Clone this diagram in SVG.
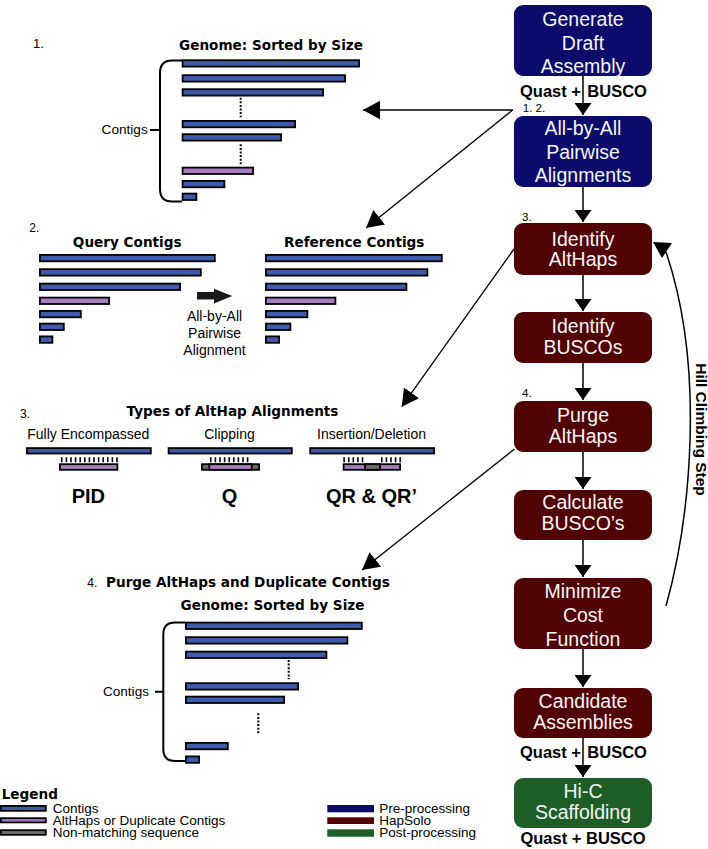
<svg xmlns="http://www.w3.org/2000/svg" width="708" height="849" viewBox="0 0 708 849">
<style>
.bar{fill:#3d5ba9;stroke:#000;stroke-width:1.8}
.pk{fill:#a97cc0;stroke:#000;stroke-width:1.8}
.gy{fill:#6d6d6d;stroke:#000;stroke-width:1.8}
.t{font-family:"Liberation Sans",Arial,sans-serif;fill:#000}
.h{font-family:"DejaVu Sans",sans-serif;font-weight:bold;font-size:13.6px;fill:#000}
.b{font-family:"Liberation Sans",Arial,sans-serif;font-weight:bold;fill:#000}
.bx{font-family:"Liberation Sans",Arial,sans-serif;font-size:19.5px;fill:#f4f4f4;text-anchor:middle}
.pre{fill:#0b0b6b}.hap{fill:#510202}.post{fill:#1d5e27}
.ln{fill:none;stroke:#000;stroke-width:1.3}
.fl{fill:none;stroke:#000;stroke-width:1.5}
.br{fill:none;stroke:#000;stroke-width:2}
.dot{stroke:#000;stroke-width:2;stroke-dasharray:2 1.6}
.hatch{stroke:#000;stroke-width:5;stroke-dasharray:1.6 3}
</style>
<defs>
<marker id="ah" markerUnits="userSpaceOnUse" markerWidth="18" markerHeight="19" refX="17" refY="9.3" orient="auto" viewBox="0 0 18 19"><path d="M0,0 L17,9.3 L0,18.6 z" fill="#000"/></marker>
<marker id="fh" markerUnits="userSpaceOnUse" markerWidth="13" markerHeight="17" refX="12" refY="8.5" orient="auto" viewBox="0 0 13 17"><path d="M0,0 L12,8.5 L0,17 z" fill="#000"/></marker>
</defs>

<!-- Section 1 -->
<g id="sec1">
<text class="t" x="33" y="48.3" font-size="13">1.</text>
<text class="h" x="271" y="50" text-anchor="middle">Genome: Sorted by Size</text>
<path class="br" d="M182,60.5 H172 Q160,60.5 160,73 V189 Q160,201.5 172,201.5 H182 M150,130 H160"/>
<text class="t" x="147.7" y="134" font-size="13.6" text-anchor="end">Contigs</text>
<rect class="bar" x="182.6" y="60.2" width="176.5" height="6.4"/>
<rect class="bar" x="182.6" y="75.2" width="162.5" height="6.4"/>
<rect class="bar" x="182.6" y="89.2" width="140.5" height="6.4"/>
<line class="dot" x1="240.7" y1="97.7" x2="240.7" y2="117.3"/>
<rect class="bar" x="182.6" y="120.9" width="112.5" height="6.4"/>
<rect class="bar" x="182.6" y="134.2" width="98.5" height="6.4"/>
<line class="dot" x1="240.7" y1="144.3" x2="240.7" y2="165"/>
<rect class="pk" x="182.6" y="167.6" width="70.5" height="6.4"/>
<rect class="bar" x="182.6" y="180.9" width="41.8" height="6.4"/>
<rect class="bar" x="182.6" y="193.6" width="13.8" height="6.4"/>
</g>

<!-- Section 2 -->
<g id="sec2">
<text class="t" x="29.3" y="232.3" font-size="12">2.</text>
<text class="h" x="127.2" y="247.3" text-anchor="middle">Query Contigs</text>
<text class="h" x="354.2" y="247.3" text-anchor="middle">Reference Contigs</text>
<rect class="bar" x="39.9" y="254.9" width="174.9" height="6.4"/>
<rect class="bar" x="39.9" y="269.2" width="160.9" height="6.4"/>
<rect class="bar" x="39.9" y="283.6" width="140.2" height="6.4"/>
<rect class="pk" x="39.9" y="297.6" width="69.2" height="6.4"/>
<rect class="bar" x="39.9" y="310.9" width="40.9" height="6.4"/>
<rect class="bar" x="39.9" y="323.6" width="23.9" height="6.4"/>
<rect class="bar" x="39.9" y="336.4" width="12.5" height="6.4"/>
<rect class="bar" x="265.9" y="254.9" width="175.9" height="6.4"/>
<rect class="bar" x="265.9" y="269.2" width="161.5" height="6.4"/>
<rect class="bar" x="265.9" y="283.6" width="140.5" height="6.4"/>
<rect class="pk" x="265.9" y="297.6" width="69.5" height="6.4"/>
<rect class="bar" x="265.9" y="310.9" width="41.5" height="6.4"/>
<rect class="bar" x="265.9" y="323.6" width="24.5" height="6.4"/>
<rect class="bar" x="265.9" y="336.4" width="13.2" height="6.4"/>
<polygon points="197,292 214,292 214,288.8 232.3,296 214,303.4 214,299.6 197,299.6" fill="#1a1a1a"/>
<text class="t" font-size="14" text-anchor="middle"><tspan x="214.5" y="321">All-by-All</tspan><tspan x="214.5" y="338">Pairwise</tspan><tspan x="214.5" y="354.5">Alignment</tspan></text>
</g>

<!-- Section 3 -->
<g id="sec3">
<text class="t" x="20" y="418.3" font-size="12">3.</text>
<text class="h" x="232.5" y="415.7" text-anchor="middle">Types of AltHap Alignments</text>
<text class="t" font-size="14" text-anchor="middle" y="439.3"><tspan x="88.3">Fully Encompassed</tspan><tspan x="229.5">Clipping</tspan><tspan x="371.5">Insertion/Deletion</tspan></text>
<rect class="bar" x="26.9" y="448.1" width="123.9" height="5.4"/>
<rect class="bar" x="168.6" y="448.1" width="123.2" height="5.4"/>
<rect class="bar" x="310.2" y="448.1" width="123.9" height="5.4"/>
<line class="hatch" x1="61" y1="459.8" x2="118" y2="459.8"/>
<line class="hatch" x1="210" y1="459.8" x2="251" y2="459.8"/>
<line class="hatch" x1="343.3" y1="459.8" x2="364" y2="459.8"/>
<line class="hatch" x1="381" y1="459.8" x2="401" y2="459.8"/>
<rect class="pk" x="59.9" y="464.2" width="57.5" height="5.6"/>
<rect class="gy" x="201.9" y="464.2" width="57.2" height="5.6"/>
<rect class="pk" x="209.3" y="464.2" width="42.4" height="5.6"/>
<rect class="pk" x="343.6" y="464.2" width="56.5" height="5.6"/>
<rect class="gy" x="365" y="464.2" width="15" height="5.6"/>
<text class="b" font-size="20" text-anchor="middle" y="502.5"><tspan x="88.3">PID</tspan><tspan x="229.5">Q</tspan><tspan x="371.5">QR &amp; QR’</tspan></text>
</g>

<!-- Section 4 -->
<g id="sec4">
<text class="t" x="87.3" y="586.7" font-size="12">4.</text>
<text class="h" x="106" y="586.7">Purge AltHaps and Duplicate Contigs</text>
<text class="h" x="272.5" y="610" text-anchor="middle">Genome: Sorted by Size</text>
<path class="br" d="M185,622.5 H175 Q163.3,622.5 163.3,634.5 V749 Q163.3,761 175,761 H185 M155,691.7 H163.3"/>
<text class="t" x="149" y="696" font-size="13.6" text-anchor="end">Contigs</text>
<rect class="bar" x="185.9" y="622.6" width="175.9" height="6.4"/>
<rect class="bar" x="185.9" y="637.2" width="161.5" height="6.4"/>
<rect class="bar" x="185.9" y="651.6" width="140.5" height="6.4"/>
<line class="dot" x1="288.7" y1="660" x2="288.7" y2="679.3"/>
<rect class="bar" x="185.9" y="683.2" width="112.2" height="6.4"/>
<rect class="bar" x="185.9" y="696.6" width="98.2" height="6.4"/>
<line class="dot" x1="258.3" y1="713.3" x2="258.3" y2="733.3"/>
<rect class="bar" x="185.9" y="742.9" width="41.9" height="6.4"/>
<rect class="bar" x="185.9" y="756.4" width="13.2" height="6.4"/>
</g>

<!-- Legend -->
<g id="legend">
<text class="h" x="1.7" y="799.3" font-size="13.3">Legend</text>
<rect class="bar" x="0.9" y="805.9" width="44.9" height="4.9"/>
<rect class="pk" x="0.9" y="818.2" width="44.9" height="4.2"/>
<rect class="gy" x="0.9" y="830.2" width="44.9" height="4.6"/>
<text class="t" font-size="13.5"><tspan x="52.7" y="812.5">Contigs</tspan><tspan x="52.7" y="824.5">AltHaps or Duplicate Contigs</tspan><tspan x="52.7" y="836.5">Non-matching sequence</tspan></text>
<rect class="pre" x="327.3" y="805" width="46.7" height="7.3"/>
<rect class="hap" x="327.3" y="817.3" width="46.7" height="6.7"/>
<rect class="post" x="327.3" y="829.3" width="46.7" height="7.4"/>
<text class="t" font-size="13.5"><tspan x="379.3" y="812.5">Pre-processing</tspan><tspan x="379.3" y="824.5">HapSolo</tspan><tspan x="379.3" y="836.5">Post-processing</tspan></text>
</g>

<!-- Flowchart nodes -->
<g id="n-draft"><rect class="pre" x="514" y="5" width="138" height="71" rx="9"/><text class="bx"><tspan x="583" y="26">Generate</tspan><tspan x="583" y="49.5">Draft</tspan><tspan x="583" y="73">Assembly</tspan></text></g>
<g id="n-align"><rect class="pre" x="514" y="116" width="138" height="71" rx="9"/><text class="bx"><tspan x="583" y="135">All-by-All</tspan><tspan x="583" y="158.5">Pairwise</tspan><tspan x="583" y="182">Alignments</tspan></text></g>
<g id="n-idalt"><rect class="hap" x="514" y="223" width="138" height="52" rx="9"/><text class="bx"><tspan x="583" y="245.7">Identify</tspan><tspan x="583" y="266">AltHaps</tspan></text></g>
<g id="n-idbusco"><rect class="hap" x="514" y="312" width="138" height="51" rx="9"/><text class="bx"><tspan x="583" y="333.3">Identify</tspan><tspan x="583" y="354.3">BUSCOs</tspan></text></g>
<g id="n-purge"><rect class="hap" x="514" y="401" width="138" height="51" rx="9"/><text class="bx"><tspan x="583" y="421.7">Purge</tspan><tspan x="583" y="442.7">AltHaps</tspan></text></g>
<g id="n-calc"><rect class="hap" x="514" y="490" width="138" height="50" rx="9"/><text class="bx"><tspan x="583" y="508.5">Calculate</tspan><tspan x="583" y="530">BUSCO’s</tspan></text></g>
<g id="n-min"><rect class="hap" x="514" y="578" width="138" height="71" rx="9"/><text class="bx"><tspan x="583" y="598">Minimize</tspan><tspan x="583" y="621.7">Cost</tspan><tspan x="583" y="645.5">Function</tspan></text></g>
<g id="n-cand"><rect class="hap" x="514" y="688" width="138" height="50" rx="9"/><text class="bx"><tspan x="583" y="708">Candidate</tspan><tspan x="583" y="729">Assemblies</tspan></text></g>
<g id="n-hic"><rect class="post" x="514" y="778" width="138" height="50" rx="9"/><text class="bx"><tspan x="583" y="797.7">Hi-C</tspan><tspan x="583" y="819">Scaffolding</tspan></text></g>

<!-- Flow labels -->
<g id="labels">
<text class="b" font-size="16.5" x="581" y="96.7" text-anchor="end">Quast +</text>
<text class="b" font-size="16.5" x="587.3" y="96.7">BUSCO</text>
<text class="b" font-size="16.5" x="581" y="758.3" text-anchor="end">Quast +</text>
<text class="b" font-size="16.5" x="587.3" y="758.3">BUSCO</text>
<text class="b" font-size="16.5" x="583" y="844" text-anchor="middle">Quast + BUSCO</text>
<text class="t" font-size="11.6" x="522.7" y="111.7">1. 2.</text>
<text class="t" font-size="11.6" x="522" y="220.5">3.</text>
<text class="t" font-size="11.6" x="522" y="397">4.</text>
<text class="b" font-size="15.5" transform="translate(695.5,429.5) rotate(90)" text-anchor="middle">Hill Climbing Step</text>
</g>

<!-- Connectors -->
<g id="connectors">
<path class="fl" d="M583,76 V115" marker-end="url(#fh)"/>
<path class="fl" d="M583,187 V222" marker-end="url(#fh)"/>
<path class="fl" d="M583,275 V311" marker-end="url(#fh)"/>
<path class="fl" d="M583,363 V400" marker-end="url(#fh)"/>
<path class="fl" d="M583,452 V489" marker-end="url(#fh)"/>
<path class="fl" d="M583,540 V577" marker-end="url(#fh)"/>
<path class="fl" d="M583,649 V687" marker-end="url(#fh)"/>
<path class="fl" d="M583,738 V777" marker-end="url(#fh)"/>
<path class="ln" d="M512.7,110 L363,110" marker-end="url(#ah)"/>
<path class="ln" d="M512.7,110 L366,228" marker-end="url(#ah)"/>
<path class="ln" d="M514,249 L401.7,406.7" marker-end="url(#ah)"/>
<path class="ln" d="M514.5,449 L362,570" marker-end="url(#ah)"/>
<path class="fl" d="M666,606 C690,520 706,370 666,252"/>
<polygon points="653,242 672,243 662,258" fill="#000"/>
</g>
</svg>
